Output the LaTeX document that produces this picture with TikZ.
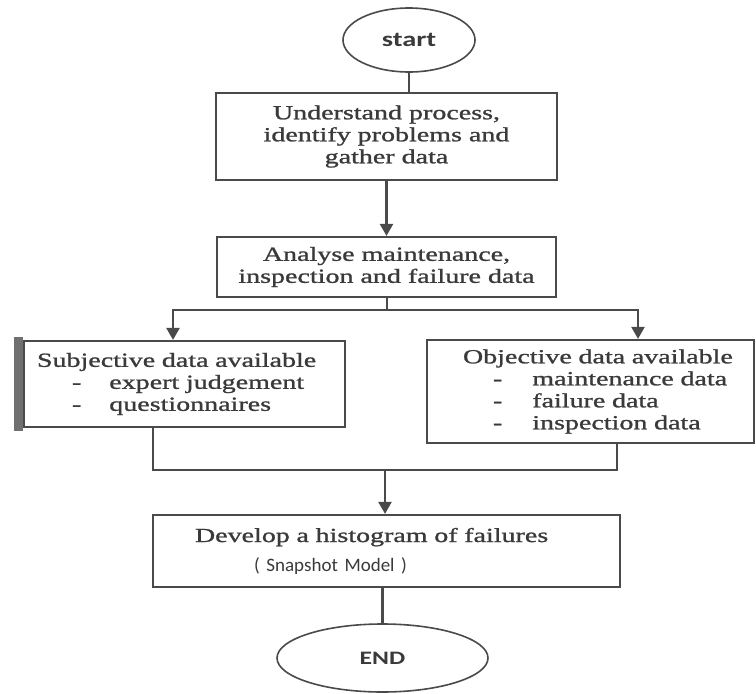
\documentclass[tikz,border=0pt]{standalone}
\usepackage{fontspec}
\setmainfont[FakeStretch=1.4,FakeBold=1.2]{Liberation Serif}
\newfontfamily\termfont[FakeStretch=1.35]{Carlito}
\newfontfamily\notefont{Carlito}
\usepackage{tikz}
\usetikzlibrary{shapes.geometric,arrows.meta}

\definecolor{inkgray}{HTML}{3A3A3A}
\definecolor{linegray}{HTML}{4A4A4A}
\definecolor{bargray}{HTML}{707070}

\tikzset{
  stepbox/.style={draw=linegray, line width=2.2pt, rectangle, inner sep=0pt,
    text=inkgray, font=\fontsize{20}{22}\selectfont},
  terminal/.style={draw=linegray, line width=1.6pt, ellipse, inner sep=0pt,
    text=inkgray, font=\termfont\bfseries},
  flowline/.style={draw=linegray, line width=2.2pt},
  flowarrow/.style={flowline, -{Triangle[length=12pt,width=13pt]}}
}

\begin{document}
\begin{tikzpicture}[x=1pt, y=-1pt]
 \useasboundingbox (0,0) rectangle (756,694);

 % terminals
 \node (start) [terminal, minimum width=132pt, minimum height=64pt, font=\termfont\bfseries\fontsize{21}{24}\selectfont] at (409,40) {start};
 \node (end) [terminal, minimum width=211pt, minimum height=68pt, font=\termfont\bfseries\fontsize{19}{22}\selectfont] at (382.5,658) {END};

 % process boxes
 \node (understand) [stepbox, minimum width=341pt, minimum height=87pt, align=center] at (386.5,136.5)
  {Understand process,\\ identify problems and\\ gather data};
 \node (analyse) [stepbox, minimum width=339pt, minimum height=60pt, align=center] at (386.5,267)
  {Analyse maintenance,\\ inspection and failure data};
 \node (subjective) [stepbox, minimum width=321pt, minimum height=86pt, text width=321pt, align=left] at (184.5,384)
  {\hspace*{13pt}Subjective data available\\
   \hspace*{48pt}-\hspace*{28pt}expert judgement\\
   \hspace*{48pt}-\hspace*{28pt}questionnaires};
 \node (objective) [stepbox, minimum width=327pt, minimum height=103pt, text width=327pt, align=left] at (590.5,391.5)
  {\hspace*{36pt}Objective data available\\
   \hspace*{66pt}-\hspace*{30pt}maintenance data\\
   \hspace*{66pt}-\hspace*{30pt}failure data\\
   \hspace*{66pt}-\hspace*{30pt}inspection data};
 \node (histogram) [stepbox, minimum width=467pt, minimum height=72pt, text width=467pt, align=left] at (386.5,551)
  {\hspace*{42pt}Develop a histogram of failures\\[7pt]
   \hspace*{101pt}{\notefont\fontsize{19}{22}\selectfont( Snapshot Model )}};

 % side bar of the subjective box
 \fill[bargray] ([xshift=-9pt,yshift=3pt]subjective.north west) rectangle ([yshift=-3pt]subjective.south west);

 \coordinate (split) at (387,310);
 \coordinate (join) at (385,470);

 % connectors
 \draw[flowline] (start.south) -- (start.south |- understand.north);
 \draw[flowarrow] (understand.south) -- (analyse.north);
 \draw[flowline] (analyse.south -| split) -- (split);
 \draw[flowarrow] (split) -| ([xshift=-11.5pt]subjective.north);
 \draw[flowarrow] (split) -| ([xshift=47.5pt]objective.north);
 \draw[flowline] ([xshift=-31.5pt]subjective.south) |- (join) -| ([xshift=26.5pt]objective.south);
 \draw[flowarrow] (join) -- (join |- histogram.north);
 \draw[flowline] (histogram.south -| end.north) -- (end.north);
\end{tikzpicture}
\end{document}
